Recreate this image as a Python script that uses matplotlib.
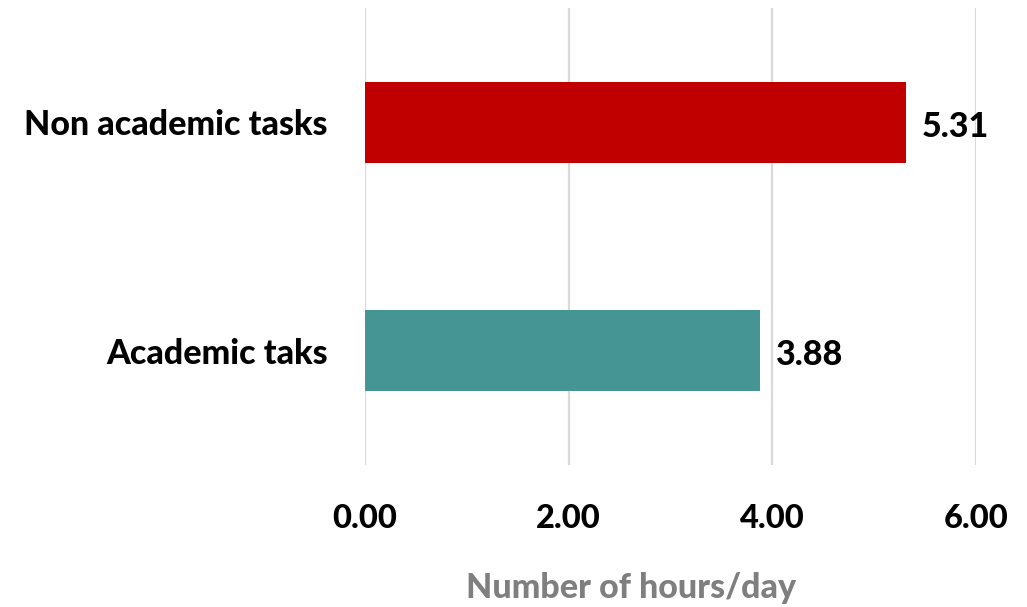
import matplotlib
matplotlib.use("Agg")
import matplotlib.pyplot as plt

categories = ["Academic taks", "Non academic tasks"]
hours = [3.88, 5.31]
bar_colors = ["#459595", "#C00000"]
xticks = [0, 2, 4, 6]

plt.rcParams["font.family"] = ["Lato", "DejaVu Sans"]
W = 900

fig = plt.figure(figsize=(10.27, 6.07), dpi=100)
ax = fig.add_axes([365 / 1027, 1 - 465 / 607, 611 / 1027, 457 / 607])

ypos = list(range(len(categories)))
ax.barh(ypos, hours, height=0.354, color=bar_colors, zorder=3)

for y, v in zip(ypos, hours):
    ax.text(v + 0.16, y - 0.02, f"{v:.2f}", va="center", ha="left",
            fontsize=24.5, fontweight=W, color="black")

ax.set_xlim(0, 6)
ax.set_ylim(-0.5, 1.5)
ax.set_xticks(xticks)
ax.set_xticklabels([f"{t:.2f}" for t in xticks], fontsize=23.5, fontweight=W)
ax.set_yticks(ypos)
ax.set_yticklabels(categories, fontsize=24.5, fontweight=W)
ax.tick_params(axis="both", length=0)
ax.tick_params(axis="x", pad=28)
ax.tick_params(axis="y", pad=27)

ax.grid(axis="x", color="#d9d9d9", linewidth=1.6, zorder=0)
for s in ax.spines.values():
    s.set_visible(False)

ax.set_xlabel("Number of hours/day", fontsize=24.5, fontweight=W,
              color="#7f7f7f")
ax.xaxis.set_label_coords((631 - 365) / 611, -(588 - 465) / 457)
ax.xaxis.label.set_verticalalignment("center")

fig.savefig("out.png", dpi=100)
